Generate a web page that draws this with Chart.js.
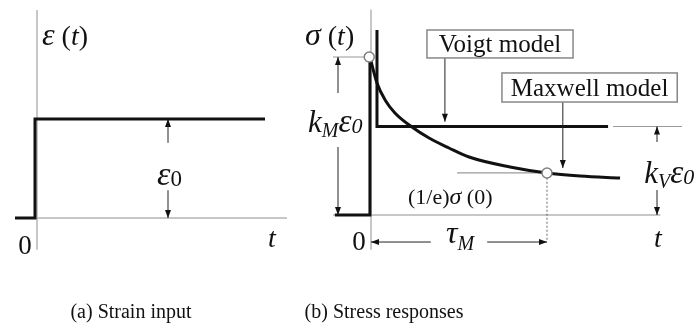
<!DOCTYPE html>
<html>
<head>
<meta charset="utf-8">
<style>
html, body { margin: 0; padding: 0; background: #fff; }
#wrap { width: 700px; height: 331px; }
</style>
<script src="https://cdn.jsdelivr.net/npm/chart.js@4.4.0/dist/chart.umd.min.js"></script>
</head>
<body>
<div id="wrap"><canvas id="myChart" width="700" height="331"></canvas></div>
<script>
// (a) strain input: step of height eps0 at t = 0
var strainT = [-0.88, -0.08, -0.08, 9.12];
var strainE = [0, 0, 1, 1];

// (b) stress responses
var maxwellStepT = [-0.205, -0.006, -0.006];
var maxwellStepS = [0, 0, 1];
var maxwellT = [-0.006, 0.034, 0.08, 0.136, 0.233, 0.33, 0.443, 0.557, 0.79, 1.0, 1.188, 1.415];
var maxwellS = [1, 0.835, 0.728, 0.646, 0.557, 0.487, 0.424, 0.367, 0.304, 0.266, 0.247, 0.234];
var voigtT = [0.034, 0.034, 1.347];
var voigtS = [1.171, 0.56, 0.56];

// marked levels
var eps0 = 1, sigma0 = 1, kV = 0.56, tauM = 1.0, sigmaTau = 0.266;

var captions = ['(a) Strain input', '(b) Stress responses'];
var boxLabels = ['Voigt model', 'Maxwell model'];

var SERIF = '"Liberation Serif", "DejaVu Serif", serif';
var BLACK = '#111';
var AXIS = '#b4b4b4';
var LEAD = '#9a9a9a';

function pts(xs, ys) {
    return xs.map(function (x, i) { return { x: x, y: ys[i] }; });
}

function line(label, xs, ys, axes, color, width, extra) {
    var ds = {
        label: label,
        data: pts(xs, ys),
        xAxisID: axes === 'a' ? 'xa' : 'xb',
        yAxisID: axes === 'a' ? 'ya' : 'yb',
        showLine: true,
        borderColor: color,
        borderWidth: width,
        pointRadius: 0,
        borderJoinStyle: 'miter',
        borderCapStyle: 'butt',
        fill: false,
        clip: false
    };
    for (var k in extra) ds[k] = extra[k];
    return ds;
}

// helpers for the drawing plugin
function P(chart, panel, t, v) {
    return [chart.scales['x' + panel].getPixelForValue(t), chart.scales['y' + panel].getPixelForValue(v)];
}

function arrow(ctx, a, b) {
    ctx.beginPath();
    ctx.moveTo(a[0], a[1]);
    ctx.lineTo(b[0], b[1]);
    ctx.stroke();
    var ang = Math.atan2(b[1] - a[1], b[0] - a[0]), L = 8, W = 3;
    ctx.beginPath();
    ctx.moveTo(b[0], b[1]);
    ctx.lineTo(b[0] - L * Math.cos(ang) + W * Math.sin(ang), b[1] - L * Math.sin(ang) - W * Math.cos(ang));
    ctx.lineTo(b[0] - L * Math.cos(ang) - W * Math.sin(ang), b[1] - L * Math.sin(ang) + W * Math.cos(ang));
    ctx.closePath();
    ctx.fill();
}

function fontOf(p) {
    return (p[2] ? 'italic ' : '') + p[1] + 'px ' + SERIF;
}

// parts: [text, size, italic, dy]
function runs(ctx, pos, parts, align) {
    var w = 0;
    parts.forEach(function (p) { ctx.font = fontOf(p); w += ctx.measureText(p[0]).width; });
    var x = align === 'center' ? pos[0] - w / 2 : pos[0];
    parts.forEach(function (p) {
        ctx.font = fontOf(p);
        ctx.fillText(p[0], x, pos[1] + (p[3] || 0));
        x += ctx.measureText(p[0]).width;
    });
}

function box(ctx, a, b, text) {
    ctx.save();
    ctx.fillStyle = '#fff';
    ctx.fillRect(a[0], a[1], b[0] - a[0], b[1] - a[1]);
    ctx.strokeStyle = '#888';
    ctx.lineWidth = 1.5;
    ctx.strokeRect(a[0], a[1], b[0] - a[0], b[1] - a[1]);
    ctx.fillStyle = BLACK;
    ctx.font = '25px ' + SERIF;
    ctx.textAlign = 'center';
    ctx.fillText(text, (a[0] + b[0]) / 2, b[1] - 6);
    ctx.restore();
}

var notes = {
    id: 'notes',
    afterDatasetsDraw: function (chart) {
        var ctx = chart.ctx;
        ctx.save();
        ctx.textAlign = 'left';
        ctx.textBaseline = 'alphabetic';
        ctx.fillStyle = BLACK;
        ctx.strokeStyle = '#222';
        ctx.lineWidth = 1;

        // ---- panel (a)
        arrow(ctx, P(chart, 'a', 5.24, 0.76), P(chart, 'a', 5.24, eps0));
        arrow(ctx, P(chart, 'a', 5.24, 0.28), P(chart, 'a', 5.24, 0));
        runs(ctx, P(chart, 'a', 0.2, 1.75), [['ε', 32, true], [' (', 28, false], ['t', 28, true], [')', 28, false]]);
        runs(ctx, P(chart, 'a', 5.3, 0.33), [['ε', 34, true], ['0', 23, false, 1]], 'center');
        runs(ctx, P(chart, 'a', -0.48, -0.364), [['0', 27, false]], 'center');
        runs(ctx, P(chart, 'a', 9.4, -0.29), [['t', 28, true]], 'center');
        runs(ctx, P(chart, 'a', 3.76, -1.01), [[captions[0], 20, false]], 'center');

        // ---- panel (b)
        arrow(ctx, P(chart, 'b', -0.1875, 0.772), P(chart, 'b', -0.1875, sigma0));
        arrow(ctx, P(chart, 'b', -0.1875, 0.43), P(chart, 'b', -0.1875, 0));
        arrow(ctx, P(chart, 'b', 1.625, 0.462), P(chart, 'b', 1.625, kV));
        arrow(ctx, P(chart, 'b', 1.625, 0.158), P(chart, 'b', 1.625, 0));
        arrow(ctx, P(chart, 'b', 0.34, -0.171), P(chart, 'b', 0, -0.171));
        arrow(ctx, P(chart, 'b', 0.66, -0.171), P(chart, 'b', tauM, -0.171));
        arrow(ctx, P(chart, 'b', 0.42, 0.994), P(chart, 'b', 0.42, kV + 0.03));
        arrow(ctx, P(chart, 'b', 1.09, 0.715), P(chart, 'b', 1.09, 0.297));

        box(ctx, P(chart, 'b', 0.318, 1.171), P(chart, 'b', 1.148, 0.994), boxLabels[0]);
        box(ctx, P(chart, 'b', 0.744, 0.899), P(chart, 'b', 1.74, 0.715), boxLabels[1]);

        runs(ctx, P(chart, 'b', -0.375, 1.076), [['σ', 32, true], [' (', 28, false], ['t', 28, true], [')', 28, false]]);
        runs(ctx, P(chart, 'b', -0.203, 0.525), [['k', 31, true], ['M', 20, true, 5], ['ε', 33, true], ['0', 22, true, 1]], 'center');
        runs(ctx, P(chart, 'b', 1.695, 0.203), [['k', 31, true], ['V', 20, true, 5], ['ε', 33, true], ['0', 22, true, 1]], 'center');
        runs(ctx, P(chart, 'b', 0.21, 0.07), [['(1/e)', 22, false], ['σ', 24, true], [' (0)', 22, false]]);
        runs(ctx, P(chart, 'b', 0.506, -0.177), [['τ', 32, true], ['M', 20, true, 7]], 'center');
        runs(ctx, P(chart, 'b', -0.068, -0.222), [['0', 27, false]], 'center');
        runs(ctx, P(chart, 'b', 1.63, -0.203), [['t', 28, true]], 'center');
        runs(ctx, P(chart, 'b', 0.074, -0.652), [[captions[1], 20, false]], 'center');

        ctx.restore();
    }
};

var ctx = document.getElementById('myChart').getContext('2d');
var myChart = new Chart(ctx, {
    type: 'scatter',
    data: {
        datasets: [
            {
                label: 'markers',
                data: pts([-0.01, tauM], [sigma0, sigmaTau]),
                xAxisID: 'xb', yAxisID: 'yb',
                pointRadius: 5,
                pointBackgroundColor: '#fff',
                pointBorderColor: '#808080',
                pointBorderWidth: 1.5,
                clip: false
            },
            line('strain', strainT, strainE, 'a', BLACK, 3),
            line('maxwell step', maxwellStepT, maxwellStepS, 'b', BLACK, 3),
            line('maxwell', maxwellT, maxwellS, 'b', BLACK, 3, { cubicInterpolationMode: 'monotone' }),
            line('voigt', voigtT, voigtS, 'b', BLACK, 3),
            line('sigma0 lead', [-0.216, -0.034], [sigma0, sigma0], 'b', LEAD, 1.2),
            line('kV lead', [1.375, 1.767], [kV, kV], 'b', LEAD, 1.2),
            line('tau lead', [0.489, tauM], [sigmaTau, sigmaTau], 'b', LEAD, 1.2),
            line('tau drop', [tauM, tauM], [sigmaTau - 0.03, -0.171], 'b', '#666', 1, { borderDash: [2, 2] }),
            line('a t-axis', [-0.88, 10], [0, 0], 'a', AXIS, 1.5),
            line('a e-axis', [0, 0], [-0.32, 2.1], 'a', AXIS, 1.5),
            line('b t-axis', [-0.216, 1.644], [0, 0], 'b', AXIS, 1.5),
            line('b s-axis', [0, 0], [-0.22, 1.3], 'b', AXIS, 1.5)
        ]
    },
    options: {
        responsive: false,
        animation: false,
        events: [],
        layout: { padding: 0, autoPadding: false },
        plugins: { legend: { display: false }, tooltip: { enabled: false } },
        scales: {
            xa: { type: 'linear', axis: 'x', display: false, bounds: 'data', min: -37 / 25, max: 663 / 25 },
            ya: { type: 'linear', axis: 'y', display: false, bounds: 'data', min: -113 / 99, max: 218 / 99 },
            xb: { type: 'linear', axis: 'x', display: false, bounds: 'data', min: -371 / 176, max: 329 / 176 },
            yb: { type: 'linear', axis: 'y', display: false, bounds: 'data', min: -116 / 158, max: 215 / 158 }
        }
    },
    plugins: [notes]
});
</script>
</body>
</html>
